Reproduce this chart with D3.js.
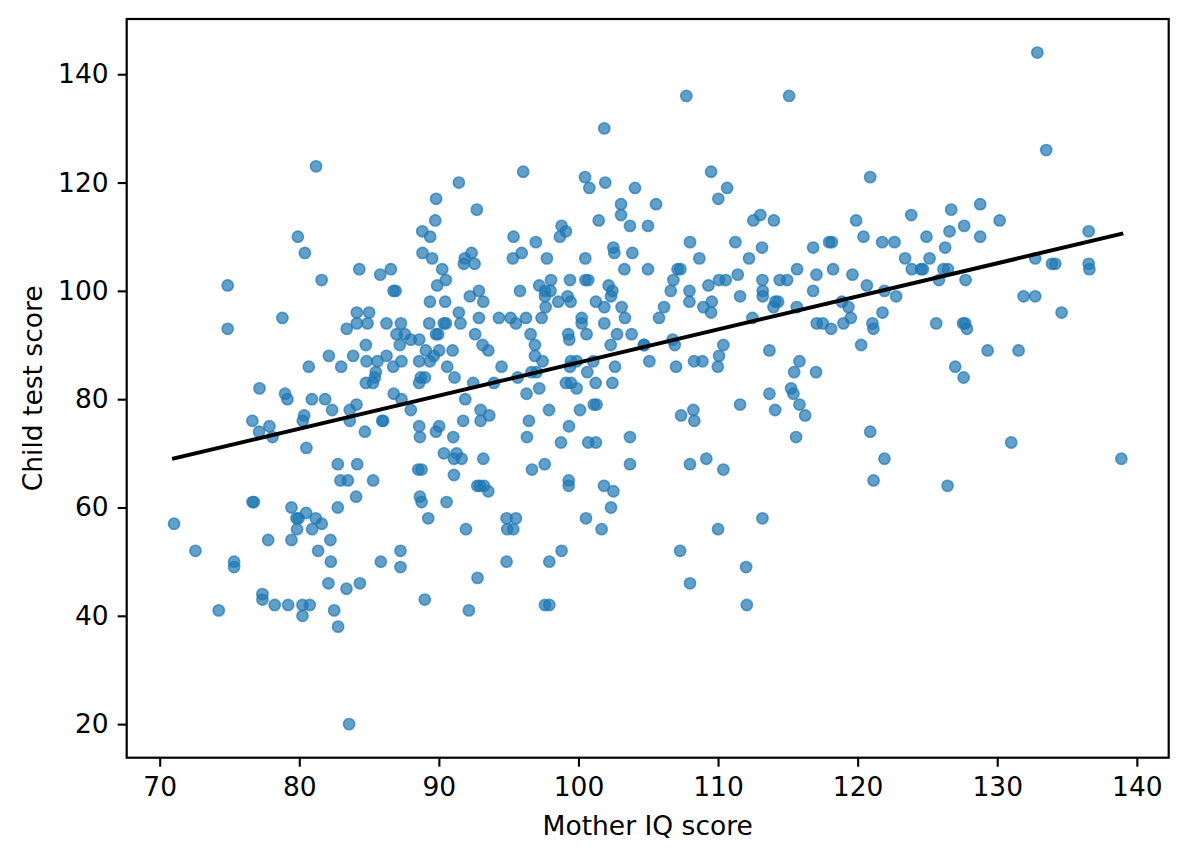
<!DOCTYPE html>
<html>
<head>
<meta charset="utf-8">
<script src="https://cdn.jsdelivr.net/npm/d3@7"></script>
<style>
  html, body { margin: 0; padding: 0; background: #ffffff; }
  svg { display: block; }
  text { font-family: "DejaVu Sans", sans-serif; }
</style>
</head>
<body>
<div id="chart"></div>
<script>
// ---- data ----
const momIQ = [
  81.2,79.9,80.4,84.3,85.8,81.6,
  101.85,96.04,91.43,100.47,100.78,101.92,104.05,89.8,92.72,89.74,103.05,103.05,103.69,
  88.81,89.38,88.83,89.52,90.24,90.5,86.56,92.34,91.86,91.79,92.56,
  95.35,95.93,95.3,96.95,97.74,98.79,99.1,98.67,101.45,100.49,102.5,102.57,103.86,103.29,
  99.39,100.5,100.7,98.03,
  107.73,115.09,109.5,110.65,110.02,105.56,104.98,120.9,112.53,113.03,114.0,
  107.99,111.24,113.15,108.66,112.22,119.89,120.42,116.81,117.96,118.15,121.76,122.64,
  123.4,104.98,107.1,107.3,106.8,110.07,110.55,111.41,113.18,114.42,114.95,115.66,117.05,118.24,119.63,
  132.87,133.51,123.84,126.7,128.78,127.63,126.58,130.17,124.93,128.78,126.27,136.55,
  125.15,123.88,124.53,124.67,126.15,126.46,125.82,127.73,132.72,133.92,134.16,136.55,136.6,
  74.87,74.87,78.79,84.12,85.0,84.12,84.89,83.4,84.77,82.12,83.86,83.0,80.68,84.82,85.6,
  85.48,85.41,84.77,85.28,77.15,78.98,79.15,80.9,81.85,82.35,83.62,84.1,83.62,84.7,85.94,
  76.64,77.86,77.12,78.08,80.35,80.25,80.51,82.76,84.15,82.95,83.48,85.29,84.07,82.76,
  76.65,76.75,79.44,71.03,80.49,79.8,79.95,81.18,81.61,80.92,79.84,
  89.88,86.75,86.9,89.36,90.45,92.22,92.87,93.18,91.43,91.55,92.87,90.35,90.5,89.31,86.25,87.28,
  86.97,87.56,87.2,87.99,88.59,89.8,89.95,89.07,90.02,89.64,90.98,86.25,
  86.73,87.32,88.59,89.35,90.6,88.7,89.0,88.59,91.12,
  86.77,87.32,87.99,86.01,88.59,88.64,90.02,89.79,91.03,
  91.89,91.74,92.99,92.99,93.61,92.46,93.94,94.49,
  92.6,93.13,93.54,94.3,95.14,95.52,96.24,95.81,97.36,
  97.19,97.6,98.0,97.6,97.65,98.55,99.22,99.44,
  96.57,96.88,96.88,97.43,96.64,97.0,95.64,96.28,97.19,97.89,96.45,96.31,
  99.27,99.34,100.23,100.23,100.58,99.46,99.87,99.39,100.63,99.1,99.46,99.87,
  101.06,101.23,102.43,102.62,102.31,102.76,101.85,103.81,104.7,101.1,101.3,
  100.11,99.32,98.75,100.7,101.25,103.69,103.69,97.58,96.67,93.18,
  90.36,91.27,91.08,91.63,88.52,88.76,91.08,92.75,92.94,93.23,93.54,
  88.64,88.76,90.55,89.24,91.94,94.85,95.52,94.9,95.33,
  99.3,99.3,101.83,102.5,102.33,100.54,101.66,
  102.16,102.43,102.33,101.25,101.85,103.09,103.33,
  106.61,107.95,107.95,109.31,109.55,108.95,109.5,106.13,105.77,111.58,113.2,113.2,
  114.1,114.3,113.97,112.46,115.64,116.81,
  117.07,117.5,118.1,118.87,119.34,119.51,118.98,
  120.66,121.92,122.76,121.78,121.06,121.13,120.25,104.7,106.75,106.9,
  105.08,106.99,108.28,108.88,110.38,110.07,109.98,113.68,115.83,115.45,117.02,
  113.68,115.23,115.4,115.83,116.24,114.09,111.58,107.35,108.23,108.3,
  115.59,120.9,121.92,121.14,107.99,109.16,110.38,113.18,110.0,
  131.89,132.72,134.61,125.63,127.55,127.7,127.83,129.31,131.53,126.99,127.59,131.0,138.89,126.44,
  72.56,75.33,75.33,77.77,79.44,82.23,81.35,82.26,82.09,83.38,84.34,85.84,
  74.23,77.36,77.36,78.24,79.2,80.23,80.75,80.23,82.5,82.78,83.57,
  87.25,87.25,88.99,94.85,92.77,92.15,97.91,98.79,97.6,97.91,
  107.28,107.99,112.01,112.06
];
const kidScore = [
  123,110,107,104,103,102,
  130,122,120,121,119,120,119,117,115,113,116,114,112,
  111,110,107,106,104,102,104,107,106,105,105,
  110,107,106,109,106,112,111,110,113,106,108,107,107,104,
  102,102,102,102,
  136,136,122,119,117,116,112,121,113,114,113,
  109,109,108,106,106,113,110,108,109,109,109,109,
  106,104,104,104,102,102,102,103,102,102,102,104,103,104,103,
  144,126,114,115,116,112,111,113,110,110,108,111,
  106,104,104,104,104,104,102,102,106,105,105,105,104,
  101,93,95,96,96,94,94,93,90,88,88,86,86,87,87,
  85,84,83,83,82,81,80,80,80,78,78,79,76,74,76,
  76,75,74,73,77,76,71,68,68,65,65,65,62,60,
  61,61,60,57,59,58,58,58,57,56,56,
  101,100,100,98,98,99,100,98,96,94,95,94,94,94,94,94,
  92,92,90,91,91,92,92,89,89,88,89,88,
  86,87,87,87,86,84,84,83,84,
  81,80,78,76,75,73,75,74,73,
  80,76,78,76,77,83,83,86,
  92,90,89,95,95,94,95,100,95,
  101,100,100,99,97,98,99,98,
  92,90,88,87,85,85,84,81,82,78,76,73,
  92,91,95,94,92,87,87,86,85,83,83,82,
  87,83,83,86,90,92,94,92,90,79,79,
  78,75,72,72,72,73,68,68,67,69,
  70,70,69,69,67,67,66,64,64,64,63,
  62,61,61,58,56,58,58,56,56,
  65,64,64,63,60,58,56,
  101,100,99,98,97,97,95,
  100,100,98,101,98,97,96,97,95,99,100,99,
  98,98,97,95,97,100,
  94,94,93,98,97,95,94,
  101,100,99,96,94,93,90,90,91,90,
  87,86,87,87,90,88,86,89,87,85,85,
  81,82,81,79,77,78,79,77,78,76,
  73,74,69,65,68,69,67,58,56,
  99,99,96,94,94,94,93,89,89,86,84,72,69,64,
  52,50,49,54,54,54,52,50,46,45,46,50,
  41,44,43,42,42,42,42,40,41,38,20,
  52,49,43,50,47,41,50,52,42,42,
  52,46,49,42
];
const xTicks = [70, 80, 90, 100, 110, 120, 130, 140];
const yTicks = [20, 40, 60, 80, 100, 120, 140];
const xLabel = "Mother IQ score";
const yLabel = "Child test score";

// ---- drawing ----
const W = 1187, H = 861;
const plot = { left: 126.7, right: 1168.7, top: 19, bottom: 757.7 };
const FS = 26.5;

const points = momIQ.map((x, i) => ({ x, y: kidScore[i] }));

const [xmin, xmax] = d3.extent(momIQ);
const [ymin, ymax] = d3.extent(kidScore);
const xpad = (xmax - xmin) * 0.05, ypad = (ymax - ymin) * 0.05;

const x = d3.scaleLinear().domain([xmin - xpad, xmax + xpad]).range([plot.left, plot.right]);
const y = d3.scaleLinear().domain([ymin - ypad, ymax + ypad]).range([plot.bottom, plot.top]);

// least squares fit
const mx = d3.mean(momIQ), my = d3.mean(kidScore);
let sxy = 0, sxx = 0;
momIQ.forEach((v, i) => { sxy += (v - mx) * (kidScore[i] - my); sxx += (v - mx) * (v - mx); });
const slope = sxy / sxx, intercept = my - slope * mx;
const fitLine = [xmin, xmax].map(v => ({ x: v, y: intercept + slope * v }));

const svg = d3.select("#chart").append("svg")
  .attr("width", W).attr("height", H)
  .attr("viewBox", `0 0 ${W} ${H}`);

svg.append("rect").attr("width", W).attr("height", H).attr("fill", "#ffffff");

const clipId = "plotclip";
svg.append("clipPath").attr("id", clipId)
  .append("rect")
  .attr("x", plot.left).attr("y", plot.top)
  .attr("width", plot.right - plot.left).attr("height", plot.bottom - plot.top);

const g = svg.append("g").attr("clip-path", `url(#${clipId})`);

g.selectAll("circle.pt").data(points).enter().append("circle")
  .attr("class", "pt")
  .attr("cx", d => x(d.x))
  .attr("cy", d => y(d.y))
  .attr("r", 5.6)
  .attr("fill", "#1f77b4")
  .attr("fill-opacity", 0.7)
  .attr("stroke", "#1f77b4")
  .attr("stroke-opacity", 0.7)
  .attr("stroke-width", 1.6);

g.append("path")
  .datum(fitLine)
  .attr("d", d3.line().x(d => x(d.x)).y(d => y(d.y)))
  .attr("fill", "none")
  .attr("stroke", "#000000")
  .attr("stroke-width", 4)
  .attr("stroke-linecap", "square");

// axes
const xAxis = d3.axisBottom(x).tickValues(xTicks).tickSize(9).tickPadding(10).tickSizeOuter(0);
const yAxis = d3.axisLeft(y).tickValues(yTicks).tickSize(9).tickPadding(9).tickSizeOuter(0);

const gx = svg.append("g").attr("transform", `translate(0,${plot.bottom})`).call(xAxis);
const gy = svg.append("g").attr("transform", `translate(${plot.left},0)`).call(yAxis);

[gx, gy].forEach(ax => {
  ax.select(".domain").remove();
  ax.selectAll(".tick line").attr("stroke", "#000").attr("stroke-width", 2.1);
  ax.selectAll(".tick text")
    .attr("fill", "#000")
    .style("font-family", "'DejaVu Sans', sans-serif")
    .style("font-size", FS + "px");
});

// frame
svg.append("rect")
  .attr("x", plot.left).attr("y", plot.top)
  .attr("width", plot.right - plot.left).attr("height", plot.bottom - plot.top)
  .attr("fill", "none").attr("stroke", "#000").attr("stroke-width", 2.2);

// labels
svg.append("text")
  .attr("x", (plot.left + plot.right) / 2)
  .attr("y", 835)
  .attr("text-anchor", "middle")
  .style("font-size", FS + "px")
  .attr("fill", "#000")
  .text(xLabel);

svg.append("text")
  .attr("transform", `translate(42,${(plot.top + plot.bottom) / 2}) rotate(-90)`)
  .attr("text-anchor", "middle")
  .style("font-size", FS + "px")
  .attr("fill", "#000")
  .text(yLabel);
</script>
</body>
</html>
